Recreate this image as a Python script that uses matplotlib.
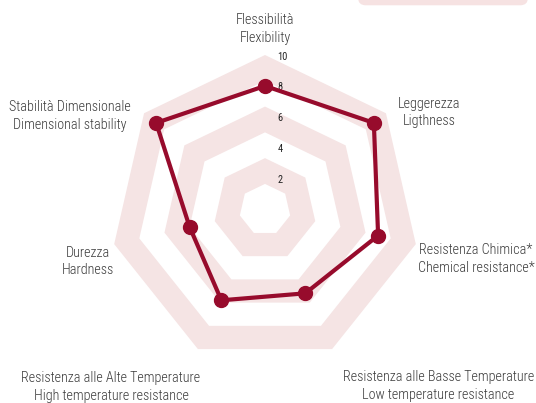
import numpy as np
import matplotlib
matplotlib.use("Agg")
import matplotlib.pyplot as plt
from matplotlib.patches import Polygon, FancyBboxPatch

# ---- data ----
labels_it = ["Flessibilità", "Leggerezza", "Resistenza Chimica*",
             "Resistenza alle Basse Temperature", "Resistenza alle Alte Temperature",
             "Durezza", "Stabilità Dimensionale"]
labels_en = ["Flexibility", "Ligthness", "Chemical resistance*",
             "Low temperature resistance", "High temperature resistance",
             "Hardness", "Dimensional stability"]
values = [8, 9, 7.5, 6, 6.5, 5, 9]
ticks = [2, 4, 6, 8, 10]
rmax = 10

# ---- style ----
W, H, DPI = 536, 403, 100
CX, CY = 265.0, 209.7          # centre in pixels
PX_PER_UNIT = 15.47
LINE = "#970b2c"
PINK = "#f5e4e4"
TXT = "#3a3a3a"
FONT = ["Roboto Condensed", "DejaVu Sans Condensed", "Roboto", "DejaVu Sans"]

fig = plt.figure(figsize=(W / DPI, H / DPI), dpi=DPI)
ax = fig.add_axes([0, 0, 1, 1])
ax.set_xlim(-CX / PX_PER_UNIT, (W - CX) / PX_PER_UNIT)
ax.set_ylim((CY - H) / PX_PER_UNIT, CY / PX_PER_UNIT)
ax.set_aspect("equal")
ax.axis("off")

n = len(values)
ang = np.pi / 2 - 2 * np.pi * np.arange(n) / n


def poly(r):
    return np.column_stack([r * np.cos(ang), r * np.sin(ang)])


# alternating bands (six equal steps, three filled)
step = rmax / 6
for k in (5, 3, 1):
    outer = poly(step * (k + 1))
    inner = poly(step * k)
    verts = np.vstack([outer, outer[:1], inner[::-1], inner[-1:]])
    ax.add_patch(Polygon(verts, closed=True, facecolor=PINK, edgecolor="none", zorder=1))

# tick labels
for t in ticks:
    ax.text(0.8, t - 0.1, str(t), fontsize=7.5, color="#222222", ha="left", va="center",
            family=FONT, zorder=2)

# data polygon
pts = poly(np.array(values, dtype=float))
closed = np.vstack([pts, pts[:1]])
ax.plot(closed[:, 0], closed[:, 1], color=LINE, lw=3.0, zorder=3, solid_joinstyle="round")
ax.plot(pts[:, 0], pts[:, 1], "o", color=LINE, ms=10, zorder=4)

# point labels (pixel centres)
label_pos = [(265, 29), (429, 112.5), (476, 259), (438.5, 386),
             (111, 387), (88, 261.7), (70, 116)]
for (px, py), it, en in zip(label_pos, labels_it, labels_en):
    x = (px - CX) / PX_PER_UNIT
    y = (CY - py) / PX_PER_UNIT
    ax.text(x, y, it + "\n" + en, fontsize=10.2, color=TXT, ha="center", va="center",
            family=FONT, fontweight="light", linespacing=1.3,
            multialignment="center", zorder=5)

# decorative rounded box at top-right (partly cut off)
bx0 = (358 - CX) / PX_PER_UNIT
bx1 = (528 - CX) / PX_PER_UNIT
by0 = (CY - 5.3) / PX_PER_UNIT
ax.add_patch(FancyBboxPatch((bx0 + 0.5, by0 + 0.5), bx1 - bx0 - 1.0, 3.0,
                            boxstyle="round,pad=0.5", facecolor="#f6e2e2",
                            edgecolor="none", zorder=0, clip_on=True))

fig.savefig("out.png", dpi=DPI)
